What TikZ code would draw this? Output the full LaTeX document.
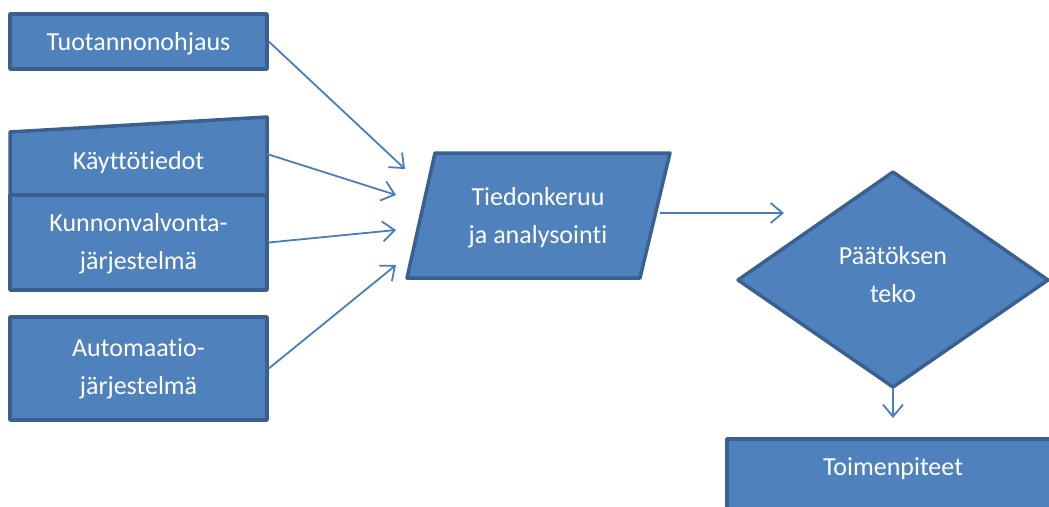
\documentclass[tikz,border=0pt]{standalone}
\usepackage{fontspec}
\setmainfont{Carlito}[Ligatures=NoCommon,RawFeature={-liga;-clig;-dlig}]
\usetikzlibrary{arrows.meta}
\definecolor{boxfill}{HTML}{4F81BD}
\definecolor{boxline}{HTML}{3A6090}
\definecolor{arrowc}{HTML}{4A7EBB}
\begin{document}
\begin{tikzpicture}[x=1pt,y=-1pt,
  shapebox/.style={fill=boxfill,draw=boxline,line width=3.5pt,line join=round},
  rectbox/.style={shapebox,minimum width=257pt,inner sep=0pt},
  lbl/.style={text=white,font=\fontsize{26}{38}\selectfont,align=center,inner sep=0pt},
  conn/.style={draw=arrowc,line width=1.8pt,-{Straight Barb[length=12pt,width=20pt,line width=1.8pt]}}]
\useasboundingbox (0,0) rectangle (1049,506);

% left column
\node[rectbox,minimum height=55pt] (tuo) at (138.5,41.5) {};
\node[lbl] (tuoT) at (138.5,43.5) {Tuotannonohjaus};
\draw[shapebox] (10,132) -- (267,117) -- (267,195) -- (10,195) -- cycle;
\node[lbl] (kay) at (138.5,163) {Käyttötiedot};
\node[rectbox,minimum height=95pt] (kun) at (138.5,242.5) {};
\node[lbl] (kunT) at (138.5,244) {Kunnonvalvonta-\\järjestelmä};
\node[rectbox,minimum height=103pt] (aut) at (138.5,368.5) {};
\node[lbl] (autT) at (138.5,368.5) {Automaatio-\\järjestelmä};

% parallelogram
\draw[shapebox] (435,153) -- (670,153) -- (640,278) -- (407,278) -- cycle;
\node[lbl] (tie) at (538,218) {Tiedonkeruu\\ja analysointi};

% diamond
\draw[shapebox] (893,172) -- (1048,280) -- (893,387) -- (738,280) -- cycle;
\node[lbl] (paa) at (893,275) {Päätöksen\\teko};

% bottom box
\draw[shapebox] (727,439) rectangle (1059,540);
\node[lbl] (toi) at (893,469) {Toimenpiteet};

% connector ends
\coordinate (s2) at (267,154);
\coordinate (s5) at (660,213);
\coordinate (s6) at (893,388);
\coordinate (e1) at (405,169);
\coordinate (e2) at (396,195);
\coordinate (e3) at (396,230);
\coordinate (e4) at (396,265);
\coordinate (e5) at (784,213);
\coordinate (e6) at (893,418);

\draw[conn] (tuo.east) -- (e1);
\draw[conn] (s2) -- (e2);
\draw[conn] (kun.east) -- (e3);
\draw[conn] (aut.east) -- (e4);
\draw[conn] (s5) -- (e5);
\draw[conn] (s6) -- (e6);
\end{tikzpicture}
\end{document}
